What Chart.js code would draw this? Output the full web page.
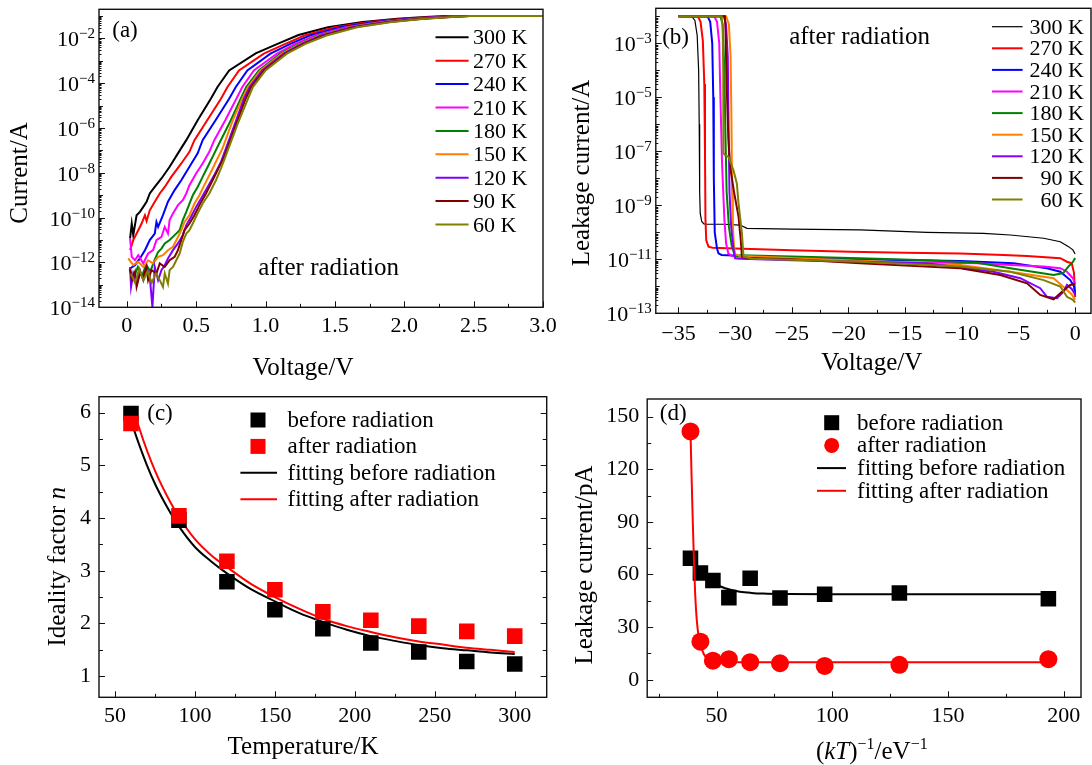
<!DOCTYPE html>
<html>
<head>
<meta charset="utf-8">
<script src="https://cdn.jsdelivr.net/npm/chart.js@4.4.1/dist/chart.umd.min.js"></script>
<style>
	html, body { margin: 0; padding: 0; background: #fff; }
	#wrap { position: relative; width: 1092px; height: 765px; overflow: hidden; background: #fff; }
	#wrap canvas { position: absolute; left: 0; top: 0; }
</style>
</head>
<body>
<div id="wrap">
	<canvas id="ca" width="1092" height="765"></canvas>
	<canvas id="cb" width="1092" height="765"></canvas>
	<canvas id="cc" width="1092" height="765"></canvas>
	<canvas id="cd" width="1092" height="765"></canvas>
</div>
<script>
// ─────────────────────────────────────────────
// shared series labels / colours (a), (b)
// ─────────────────────────────────────────────
const tempLabels = ['300 K', '270 K', '240 K', '210 K', '180 K', '150 K', '120 K', '90 K', '60 K'];
const tempColors = ['#000000', '#ff0000', '#0000ff', '#ff00ff', '#008000', '#ff8000', '#8000ff', '#800000', '#808000'];

// ─────────────────────────────────────────────
// (a) forward I–V after radiation: voltage (V) and log10(current / A)
// ─────────────────────────────────────────────
const a300V = [0.024,0.036,0.047,0.059,0.071,0.095,0.119,0.143,0.166,0.202,0.25,0.309,0.369,0.429,0.511,0.607,0.654,0.738,0.929,1.095,1.238,1.45,1.7,1.95,2.15,2.3,3.0];
const a300L = [-10.93,-10.26,-10.78,-10.33,-9.89,-9.74,-9.52,-9.29,-8.92,-8.63,-8.25,-7.73,-7.13,-6.54,-5.65,-4.68,-4.17,-3.43,-2.67,-2.22,-1.85,-1.5,-1.27,-1.12,-1.04,-1.0,-1.0];
const a270V = [0.024,0.047,0.083,0.107,0.131,0.143,0.166,0.202,0.238,0.274,0.321,0.393,0.452,0.488,0.58,0.679,0.726,0.809,0.988,1.143,1.28,1.5,1.75,2.0,2.2,2.35,3.0];
const a270L = [-11.45,-11.0,-10.56,-10.26,-9.89,-10.15,-9.67,-9.29,-8.92,-8.63,-8.18,-7.58,-7.06,-6.54,-5.65,-4.69,-4.17,-3.43,-2.68,-2.24,-1.87,-1.5,-1.27,-1.12,-1.04,-1.0,-1.0];
const a240V = [0.024,0.059,0.095,0.131,0.166,0.202,0.214,0.226,0.261,0.297,0.345,0.393,0.452,0.511,0.547,0.64,0.738,0.786,0.869,1.036,1.179,1.32,1.54,1.79,2.04,2.25,2.4,3.0];
const a240L = [-12.27,-12.12,-11.82,-11.45,-11.0,-10.71,-10.19,-10.41,-9.89,-9.29,-8.77,-8.33,-7.73,-7.13,-6.54,-5.65,-4.69,-4.17,-3.43,-2.68,-2.24,-1.87,-1.5,-1.27,-1.12,-1.04,-1.0,-1.0];
const a210V = [0.024,0.036,0.059,0.083,0.119,0.154,0.19,0.214,0.25,0.274,0.297,0.309,0.333,0.369,0.404,0.429,0.452,0.5,0.547,0.595,0.631,0.71,0.79,0.833,0.916,1.083,1.214,1.36,1.58,1.83,2.08,2.28,2.42,3.0];
const a210L = [-10.93,-11.75,-11.9,-11.67,-12.04,-11.6,-11.45,-11.0,-10.86,-10.41,-10.71,-10.11,-9.81,-9.44,-9.22,-8.92,-8.55,-8.03,-7.58,-7.06,-6.54,-5.65,-4.69,-4.17,-3.43,-2.68,-2.24,-1.87,-1.5,-1.27,-1.12,-1.04,-1.0,-1.0];
const a180V = [0.02,0.05,0.08,0.11,0.14,0.17,0.2,0.226,0.25,0.274,0.309,0.345,0.381,0.404,0.429,0.452,0.476,0.511,0.547,0.595,0.631,0.666,0.75,0.821,0.861,0.952,1.107,1.238,1.38,1.6,1.85,2.1,2.3,2.44,3.0];
const a180L = [-12.3,-12.7,-12.2,-12.6,-12.1,-12.4,-11.9,-11.53,-11.38,-11.15,-11.0,-10.78,-10.56,-10.11,-9.74,-9.37,-9.0,-8.63,-8.18,-7.58,-7.13,-6.69,-5.65,-4.69,-4.17,-3.43,-2.68,-2.24,-1.87,-1.5,-1.27,-1.12,-1.04,-1.0,-1.0];
const a150V = [0.011,0.047,0.083,0.119,0.154,0.19,0.226,0.261,0.297,0.333,0.369,0.393,0.416,0.452,0.488,0.524,0.559,0.607,0.654,0.69,0.765,0.833,0.874,0.964,1.119,1.249,1.39,1.61,1.86,2.11,2.31,2.45,3.0];
const a150L = [-11.82,-12.12,-11.97,-12.2,-11.9,-12.04,-11.75,-11.67,-11.45,-11.3,-10.86,-10.56,-10.19,-9.89,-9.37,-9.0,-8.55,-7.96,-7.36,-6.91,-5.65,-4.69,-4.17,-3.43,-2.68,-2.24,-1.87,-1.5,-1.27,-1.12,-1.04,-1.0,-1.0];
const a120V = [0.024,0.031,0.047,0.071,0.095,0.119,0.143,0.166,0.185,0.202,0.226,0.25,0.274,0.297,0.333,0.369,0.404,0.429,0.464,0.5,0.536,0.583,0.631,0.679,0.702,0.78,0.845,0.886,0.976,1.131,1.26,1.4,1.62,1.87,2.12,2.32,2.46,3.0];
const a120L = [-12.2,-13.09,-12.49,-12.94,-12.34,-12.79,-12.2,-12.64,-13.98,-12.2,-12.79,-12.34,-12.12,-11.82,-11.45,-11.15,-10.78,-10.33,-9.96,-9.52,-9.14,-8.63,-8.1,-7.51,-7.13,-5.8,-4.69,-4.17,-3.43,-2.68,-2.24,-1.87,-1.5,-1.27,-1.12,-1.04,-1.0,-1.0];
const a90V  = [0.024,0.036,0.059,0.071,0.095,0.119,0.143,0.154,0.178,0.214,0.238,0.274,0.309,0.345,0.369,0.393,0.416,0.452,0.488,0.524,0.571,0.619,0.666,0.702,0.79,0.857,0.897,0.988,1.143,1.274,1.42,1.64,1.89,2.13,2.33,2.47,3.0];
const a90L  = [-12.27,-12.79,-12.42,-13.09,-12.49,-12.64,-12.2,-12.79,-12.34,-12.49,-12.04,-12.2,-11.9,-11.75,-11.45,-11.0,-10.56,-10.26,-9.89,-9.44,-8.92,-8.33,-7.73,-7.29,-5.8,-4.69,-4.17,-3.43,-2.68,-2.24,-1.87,-1.5,-1.27,-1.12,-1.04,-1.0,-1.0];
const a60V  = [0.03,0.06,0.09,0.12,0.15,0.18,0.21,0.238,0.261,0.274,0.297,0.309,0.333,0.357,0.381,0.404,0.429,0.452,0.476,0.511,0.547,0.595,0.643,0.679,0.702,0.8,0.874,0.909,1.0,1.154,1.288,1.44,1.66,1.91,2.15,2.35,2.48,3.0];
const a60L  = [-12.5,-12.9,-12.3,-12.8,-12.4,-12.9,-12.5,-12.79,-13.09,-12.49,-12.94,-12.34,-12.2,-11.9,-11.6,-11.08,-10.71,-10.56,-10.26,-9.81,-9.37,-8.92,-8.33,-7.8,-7.43,-5.8,-4.69,-4.17,-3.43,-2.68,-2.24,-1.87,-1.5,-1.27,-1.12,-1.04,-1.0,-1.0];

// ─────────────────────────────────────────────
// (b) reverse leakage after radiation: voltage (V) and log10(current / A)
// ─────────────────────────────────────────────
const b300V = [-35,-33.85,-33.55,-33.35,-33.22,-33.17,-33.13,-33.08,-32.95,-32.75,-32.5,-31,-29.55,-28.96,-25,-18.97,-13.08,-8.08,-5.72,-2.78,-1.31,-0.58,-0.2,0];
const b300L = [-1.99,-1.99,-2.15,-2.7,-4.0,-6.0,-8.5,-9.3,-9.6,-9.69,-9.7,-9.7,-9.73,-9.85,-9.88,-9.91,-10.0,-10.04,-10.1,-10.22,-10.35,-10.53,-10.65,-10.8];
const b270V = [-35,-33.3,-33.05,-32.85,-32.72,-32.66,-32.62,-32.55,-32.35,-32.0,-30,-25,-19.85,-15,-10.14,-6.32,-4.25,-1.31,-0.72,-0.3,-0.1,0];
const b270L = [-1.99,-1.99,-2.2,-2.9,-4.5,-7.0,-9.5,-10.3,-10.53,-10.57,-10.6,-10.66,-10.72,-10.76,-10.78,-10.84,-10.88,-10.96,-11.09,-11.15,-11.5,-12.4];
const b240V = [-35,-32.45,-32.2,-32.02,-31.93,-31.88,-31.8,-31.6,-31.47,-31.2,-28,-25,-18.97,-10.14,-5.43,-2.48,-1.31,-0.43,-0.1,0];
const b240L = [-1.99,-1.99,-2.2,-3.0,-5.0,-8.0,-10.0,-10.6,-10.78,-10.84,-10.9,-10.93,-11.0,-11.06,-11.15,-11.33,-11.46,-11.77,-12.0,-12.3];
const b210V = [-35,-31.85,-31.6,-31.4,-31.3,-31.15,-30.95,-30.8,-30.6,-30.3,-28,-25,-18.97,-8.66,-5.72,-2.78,-1.31,-0.72,-0.2,0];
const b210L = [-1.99,-1.99,-2.2,-3.0,-5.0,-7.5,-9.5,-10.4,-10.78,-10.88,-10.95,-11.0,-11.09,-11.15,-11.21,-11.27,-11.33,-11.46,-11.7,-11.9];
const b180V = [-35,-31.3,-31.1,-30.95,-30.85,-30.75,-30.55,-30.3,-30.0,-29.5,-25,-18.97,-13.08,-8.66,-5.72,-1.9,-1.05,-0.6,-0.2,0];
const b180L = [-1.99,-1.99,-2.3,-4.0,-6.5,-8.5,-9.8,-10.5,-10.9,-10.85,-10.9,-10.96,-11.03,-11.13,-11.33,-11.58,-11.51,-11.27,-11.1,-10.95];
const b150V = [-35,-30.8,-30.55,-30.4,-30.32,-30.27,-30.2,-30.1,-30.0,-29.5,-25,-18.97,-10.14,-5.72,-1.9,-0.72,-0.3,0];
const b150L = [-1.99,-1.99,-2.3,-3.5,-6.0,-8.5,-9.8,-10.5,-10.81,-10.88,-10.95,-11.05,-11.21,-11.46,-11.7,-12.14,-12.3,-12.5];
const b120V = [-35,-31.0,-30.8,-30.65,-30.58,-30.5,-30.35,-30.15,-30.0,-29.5,-25,-18.97,-13.08,-7.2,-4.84,-3.08,-2.48,-1.6,-1.02,-0.72,-0.3,0];
const b120L = [-1.99,-1.99,-2.3,-3.5,-6.0,-8.5,-9.8,-10.6,-10.96,-10.98,-11.03,-11.09,-11.15,-11.46,-11.7,-12.07,-12.39,-12.44,-12.2,-11.95,-12.1,-12.3];
const b90V  = [-35,-30.9,-30.85,-30.75,-30.6,-30.44,-30.1,-29.7,-29.5,-29.4,-29.0,-25,-18.97,-10.14,-6.61,-4.25,-3.08,-1.9,-1.31,-0.43,0];
const b90L  = [-1.99,-1.99,-2.5,-4.5,-6.5,-7.57,-8.5,-9.42,-10.3,-10.9,-10.95,-11.0,-11.15,-11.33,-11.58,-11.89,-12.32,-12.48,-12.26,-11.95,-11.9];
const b60V  = [-35,-31.2,-31.1,-31.05,-31.03,-30.85,-30.59,-30.15,-29.85,-29.7,-29.4,-29.26,-28.5,-25,-18.97,-10.14,-5.72,-2.78,-1.31,-0.72,-0.2,0];
const b60L  = [-1.99,-1.99,-2.4,-4.0,-7.07,-7.15,-7.2,-7.69,-8.19,-8.93,-10.04,-10.9,-10.98,-11.02,-11.09,-11.27,-11.46,-11.77,-12.01,-12.39,-12.5,-12.6];

// ─────────────────────────────────────────────
// (c) ideality factor vs temperature
// ─────────────────────────────────────────────
const cTemp   = [60, 90, 120, 150, 180, 210, 240, 270, 300];
const cBefore = [5.98, 3.96, 2.79, 2.26, 1.9, 1.63, 1.46, 1.28, 1.23];
const cAfter  = [5.79, 4.04, 3.18, 2.64, 2.22, 2.06, 1.95, 1.85, 1.76];
const cFitT      = [61, 65, 70, 75, 80, 85, 90, 100, 110, 120, 135, 150, 165, 180, 195, 210, 225, 240, 255, 270, 285, 300];
const cFitBefore = [5.75, 5.4, 5.0, 4.65, 4.35, 4.08, 3.84, 3.45, 3.18, 2.95, 2.65, 2.42, 2.2, 2.03, 1.88, 1.76, 1.67, 1.59, 1.53, 1.49, 1.45, 1.42];
const cFitAfter  = [6.12, 5.72, 5.28, 4.9, 4.57, 4.28, 4.02, 3.6, 3.3, 3.07, 2.75, 2.5, 2.28, 2.09, 1.95, 1.84, 1.74, 1.66, 1.6, 1.54, 1.5, 1.46];

// ─────────────────────────────────────────────
// (d) leakage current (pA) vs (kT)^-1
// ─────────────────────────────────────────────
const dInvKT  = [38.7, 43.0, 48.4, 55.3, 64.5, 77.4, 96.7, 129.0, 193.4];
const dBefore = [69.2, 60.8, 56.6, 46.8, 57.9, 46.6, 48.7, 49.4, 46.2];
const dAfter  = [141.5, 21.7, 10.9, 11.7, 10.0, 9.4, 7.9, 8.5, 11.7];
const dFitBeforeX = [38.7, 41, 43, 46, 48.5, 52, 56, 60, 65, 70, 80, 100, 194];
const dFitBefore  = [69.5, 64.5, 61, 57.5, 55.5, 53, 51.3, 50.2, 49.5, 49.1, 48.8, 48.7, 48.7];
const dFitAfterX  = [38.7, 39.2, 39.7, 40.2, 40.7, 41.2, 41.8, 42.5, 43.5, 44.5, 46, 48, 52, 60, 194];
const dFitAfter   = [142, 115, 90, 68, 50, 38, 29, 23, 18, 14.5, 12, 10.6, 10.2, 10.0, 10.0];

// ─────────────────────────────────────────────
// tick values
// ─────────────────────────────────────────────
const aVoltTicks = [0, 0.5, 1.0, 1.5, 2.0, 2.5, 3.0];
const aVoltMinor = [0.25, 0.75, 1.25, 1.75, 2.25, 2.75];
const aLabelExps = [-14, -12, -10, -8, -6, -4, -2];
const bVoltTicks = [-35, -30, -25, -20, -15, -10, -5, 0];
const bVoltMinor = [-32.5, -27.5, -22.5, -17.5, -12.5, -7.5, -2.5];
const bLabelExps = [-13, -11, -9, -7, -5, -3];
const cTempTicks = [50, 100, 150, 200, 250, 300];
const cTempMinor = [75, 125, 175, 225, 275];
const cNTicks    = [1, 2, 3, 4, 5, 6];
const cNMinor    = [1.5, 2.5, 3.5, 4.5, 5.5];
const dXTicks    = [50, 100, 150, 200];
const dXMinor    = [25, 75, 125, 175];
const dYTicks    = [0, 30, 60, 90, 120, 150];
const dYMinor    = [15, 45, 75, 105, 135];

// ─────────────────────────────────────────────
// helpers
// ─────────────────────────────────────────────
const SERIF = '"Liberation Serif", "Times New Roman", serif';
Chart.defaults.font.family = SERIF;
Chart.defaults.font.size = 22;
Chart.defaults.color = '#000';

const W = 1092, H = 765, AX = 60;
const layoutFor = p => ({ padding: { left: p.l - AX, top: p.t, right: W - p.r, bottom: H - p.b - AX } });
const fitY = s => { s.width = AX; };
const fitX = s => { s.height = AX; };
const setTicks = vals => s => { s.ticks = vals.map(v => ({ value: v })); };
const logPts = (vs, ls) => vs.map((v, i) => ({ x: v, y: Math.pow(10, ls[i]) }));
const xyPts  = (xs, ys) => xs.map((x, i) => ({ x, y: ys[i] }));
const minus  = v => (v < 0 ? '\u2212' + Math.abs(v) : String(v));

function decadeTicks(lo, hi) {
	const out = [];
	for (let e = lo; e <= hi; e++) out.push(Math.pow(10, e));
	return out;
}
function subDecadeTicks(lo, hi, max) {
	const out = [];
	for (let e = lo; e < hi; e++) for (let m = 2; m <= 9; m++) { const v = m * Math.pow(10, e); if (v < max) out.push(v); }
	return out;
}

const fontOf = p => `${p.it ? 'italic ' : ''}${p.s || 22}px ${SERIF}`;
function drawRich(ctx, parts, x, y, align = 'left', rot = 0) {
	ctx.save();
	ctx.translate(x, y);
	if (rot) ctx.rotate(rot);
	let w = 0;
	parts.forEach(p => { ctx.font = fontOf(p); w += ctx.measureText(p.t).width; });
	let cx = align === 'center' ? -w / 2 : align === 'right' ? -w : 0;
	ctx.textAlign = 'left';
	ctx.textBaseline = 'alphabetic';
	ctx.fillStyle = '#000';
	parts.forEach(p => { ctx.font = fontOf(p); ctx.fillText(p.t, cx, -(p.up || 0)); cx += ctx.measureText(p.t).width; });
	ctx.restore();
}

// ─────────────────────────────────────────────
// frame, inward ticks, log labels, legend and notes
// ─────────────────────────────────────────────
const deco = {
	id: 'deco',
	afterDraw(chart, args, o) {
		const { ctx, chartArea: a, scales: { x, y } } = chart;
		ctx.save();
		ctx.strokeStyle = '#111';
		ctx.lineWidth = 1.4;
		ctx.strokeRect(a.left, a.top, a.right - a.left, a.bottom - a.top);

		ctx.lineWidth = 1;
		ctx.beginPath();
		const xt = (vals, len) => vals.forEach(v => {
			const p = Math.round(x.getPixelForValue(v)) + 0.5;
			ctx.moveTo(p, a.bottom); ctx.lineTo(p, a.bottom - len);
		});
		const yt = (vals, len) => vals.forEach(v => {
			const p = Math.round(y.getPixelForValue(v)) + 0.5;
			ctx.moveTo(a.left, p); ctx.lineTo(a.left + len, p);
			if (o.rightTicks) { ctx.moveTo(a.right, p); ctx.lineTo(a.right - len, p); }
		});
		xt(o.xMajor || [], 6); xt(o.xMinor || [], 3.5);
		yt(o.yMajor || [], 6); yt(o.yMinor || [], 4); yt(o.yTiny || [], 2.5);
		ctx.stroke();

		// log-axis labels 10^n
		(o.logLabels || []).forEach(e => {
			const p = y.getPixelForValue(Math.pow(10, e));
			drawRich(ctx, [{ t: '10', s: 22 }, { t: minus(e), s: 15, up: 8 }], a.left - 4, p + 8, 'right');
		});

		// legend
		const lg = o.legend;
		if (lg) {
			lg.items.forEach((k, i) => {
				const ds = chart.data.datasets[k];
				const ry = lg.y0 + i * lg.dy;
				ctx.fillStyle = ds.backgroundColor || ds.borderColor;
				if (ds.pointRadius > 0) {
					if (ds.pointStyle === 'circle') {
						ctx.beginPath(); ctx.arc(lg.mx, ry, lg.ms / 2, 0, Math.PI * 2); ctx.fill();
					} else {
						ctx.fillRect(lg.mx - lg.ms / 2, ry - lg.ms / 2, lg.ms, lg.ms);
					}
				} else {
					ctx.strokeStyle = ds.borderColor;
					ctx.lineWidth = ds.borderWidth;
					ctx.beginPath(); ctx.moveTo(lg.x0, ry); ctx.lineTo(lg.x1, ry); ctx.stroke();
				}
				drawRich(ctx, [{ t: ds.label, s: lg.size }], lg.tx, ry + 7, lg.align);
			});
		}

		(o.texts || []).forEach(tx => drawRich(ctx, tx.parts, tx.x, tx.y, tx.align || 'left', tx.rot || 0));
		ctx.restore();
	}
};

const common = { responsive: false, animation: false, events: [], devicePixelRatio: 1 };
const hideGrid = { display: false, drawTicks: false };
const ROT = -Math.PI / 2;

// ─────────────────────────────────────────────
// (a)
// ─────────────────────────────────────────────
const panelA = { l: 99, t: 9.3, r: 543, b: 307.3 };
const aCurvesV = [a300V, a270V, a240V, a210V, a180V, a150V, a120V, a90V, a60V];
const aCurvesL = [a300L, a270L, a240L, a210L, a180L, a150L, a120L, a90L, a60L];

new Chart(document.getElementById('ca'), {
	type: 'line',
	data: {
		datasets: aCurvesV.map((v, i) => ({
			label: tempLabels[i], data: logPts(v, aCurvesL[i]),
			borderColor: tempColors[i], borderWidth: 2, pointRadius: 0, order: 9 - i,
		}))
	},
	options: {
		...common,
		layout: layoutFor(panelA),
		plugins: {
			legend: { display: false }, tooltip: { enabled: false },
			deco: {
				xMajor: aVoltTicks, xMinor: aVoltMinor,
				yMajor: aLabelExps.map(e => Math.pow(10, e)),
				yMinor: decadeTicks(-13, -1),
				yTiny: subDecadeTicks(-14, -1, Math.pow(10, -0.7)),
				logLabels: aLabelExps,
				legend: { items: [0, 1, 2, 3, 4, 5, 6, 7, 8], y0: 37.3, dy: 23.4, x0: 435.5, x1: 468.6, tx: 473, align: 'left', size: 22 },
				texts: [
					{ parts: [{ t: '(a)', s: 23 }], x: 125, y: 37, align: 'center' },
					{ parts: [{ t: 'after radiation', s: 25 }], x: 328.6, y: 275, align: 'center' },
					{ parts: [{ t: 'Current/A', s: 25 }], x: 27, y: 173, align: 'center', rot: ROT },
					{ parts: [{ t: 'Voltage/V', s: 25 }], x: 303, y: 375, align: 'center' },
				],
			},
		},
		scales: {
			x: {
				type: 'linear', min: -0.2, max: 3.0, afterFit: fitX, afterBuildTicks: setTicks(aVoltTicks),
				grid: hideGrid, border: { display: false },
				ticks: { padding: 6, font: { size: 22 }, callback: v => (v === 0 ? '0' : v.toFixed(1)) },
			},
			y: {
				type: 'logarithmic', min: 1e-14, max: Math.pow(10, -0.7), afterFit: fitY,
				afterBuildTicks: setTicks(decadeTicks(-14, -1)),
				grid: hideGrid, border: { display: false }, ticks: { display: false },
			},
		},
	},
	plugins: [deco],
});

// ─────────────────────────────────────────────
// (b)
// ─────────────────────────────────────────────
const panelB = { l: 655.8, t: 8.3, r: 1091, b: 313.3 };
const bCurvesV = [b300V, b270V, b240V, b210V, b180V, b150V, b120V, b90V, b60V];
const bCurvesL = [b300L, b270L, b240L, b210L, b180L, b150L, b120L, b90L, b60L];

new Chart(document.getElementById('cb'), {
	type: 'line',
	data: {
		datasets: bCurvesV.map((v, i) => ({
			label: tempLabels[i], data: logPts(v, bCurvesL[i]),
			borderColor: tempColors[i], borderWidth: i === 0 ? 1.2 : 2, pointRadius: 0, order: 9 - i,
		}))
	},
	options: {
		...common,
		layout: layoutFor(panelB),
		plugins: {
			legend: { display: false }, tooltip: { enabled: false },
			deco: {
				xMajor: bVoltTicks, xMinor: bVoltMinor,
				yMajor: bLabelExps.map(e => Math.pow(10, e)),
				yMinor: [-12, -10, -8, -6, -4, -2].map(e => Math.pow(10, e)),
				yTiny: subDecadeTicks(-13, -1, Math.pow(10, -1.7)),
				logLabels: bLabelExps,
				legend: { items: [0, 1, 2, 3, 4, 5, 6, 7, 8], y0: 26.7, dy: 21.6, x0: 992, x1: 1022.6, tx: 1084, align: 'right', size: 22 },
				texts: [
					{ parts: [{ t: '(b)', s: 23 }], x: 675.6, y: 44, align: 'center' },
					{ parts: [{ t: 'after radiation', s: 25 }], x: 859.6, y: 44, align: 'center' },
					{ parts: [{ t: 'Leakage current/A', s: 25 }], x: 589, y: 173, align: 'center', rot: ROT },
					{ parts: [{ t: 'Voltage/V', s: 25 }], x: 871.8, y: 370, align: 'center' },
				],
			},
		},
		scales: {
			x: {
				type: 'linear', min: -37, max: 1.4, afterFit: fitX, afterBuildTicks: setTicks(bVoltTicks),
				grid: hideGrid, border: { display: false },
				ticks: { padding: 8, font: { size: 22 }, callback: v => minus(v) },
			},
			y: {
				type: 'logarithmic', min: 1e-13, max: Math.pow(10, -1.7), afterFit: fitY,
				afterBuildTicks: setTicks(decadeTicks(-13, -2)),
				grid: hideGrid, border: { display: false }, ticks: { display: false },
			},
		},
	},
	plugins: [deco],
});

// ─────────────────────────────────────────────
// (c)
// ─────────────────────────────────────────────
const panelC = { l: 99, t: 396.7, r: 546.7, b: 697.3 };

new Chart(document.getElementById('cc'), {
	type: 'line',
	data: {
		datasets: [
			{ label: 'before radiation', data: xyPts(cTemp, cBefore), showLine: false, pointStyle: 'rect', pointRadius: 11, pointBorderWidth: 0, backgroundColor: '#000000', borderColor: '#000000', order: 2 },
			{ label: 'after radiation', data: xyPts(cTemp, cAfter), showLine: false, pointStyle: 'rect', pointRadius: 11, pointBorderWidth: 0, backgroundColor: '#ff0000', borderColor: '#ff0000', order: 1 },
			{ label: 'fitting before radiation', data: xyPts(cFitT, cFitBefore), borderColor: '#000000', borderWidth: 2, pointRadius: 0, cubicInterpolationMode: 'monotone', order: 4 },
			{ label: 'fitting after radiation', data: xyPts(cFitT, cFitAfter), borderColor: '#ff0000', borderWidth: 2, pointRadius: 0, cubicInterpolationMode: 'monotone', order: 3 },
		]
	},
	options: {
		...common,
		layout: layoutFor(panelC),
		plugins: {
			legend: { display: false }, tooltip: { enabled: false },
			deco: {
				xMajor: cTempTicks, xMinor: cTempMinor, yMajor: cNTicks, yMinor: cNMinor, rightTicks: true,
				legend: { items: [0, 1, 2, 3], y0: 420, dy: 26.4, mx: 258, ms: 15, x0: 240.4, x1: 277, tx: 287.5, align: 'left', size: 23 },
				texts: [
					{ parts: [{ t: '(c)', s: 23 }], x: 160, y: 420, align: 'center' },
					{ parts: [{ t: 'Ideality factor ', s: 25 }, { t: 'n', s: 25, it: true }], x: 65, y: 566.7, align: 'center', rot: ROT },
					{ parts: [{ t: 'Temperature/K', s: 25 }], x: 303, y: 754, align: 'center' },
				],
			},
		},
		scales: {
			x: {
				type: 'linear', min: 40, max: 320, afterFit: fitX, afterBuildTicks: setTicks(cTempTicks),
				grid: hideGrid, border: { display: false }, ticks: { padding: 6, font: { size: 22 } },
			},
			y: {
				type: 'linear', min: 0.6, max: 6.3, afterFit: fitY, afterBuildTicks: setTicks(cNTicks),
				grid: hideGrid, border: { display: false }, ticks: { padding: 8, font: { size: 22 } },
			},
		},
	},
	plugins: [deco],
});

// ─────────────────────────────────────────────
// (d)
// ─────────────────────────────────────────────
const panelD = { l: 647.2, t: 399, r: 1091, b: 697.3 };

new Chart(document.getElementById('cd'), {
	type: 'line',
	data: {
		datasets: [
			{ label: 'before radiation', data: xyPts(dInvKT, dBefore), showLine: false, pointStyle: 'rect', pointRadius: 11, pointBorderWidth: 0, backgroundColor: '#000000', borderColor: '#000000', order: 3 },
			{ label: 'after radiation', data: xyPts(dInvKT, dAfter), showLine: false, pointStyle: 'circle', pointRadius: 9, pointBorderWidth: 0, backgroundColor: '#ff0000', borderColor: '#ff0000', order: 1 },
			{ label: 'fitting before radiation', data: xyPts(dFitBeforeX, dFitBefore), borderColor: '#000000', borderWidth: 2, pointRadius: 0, cubicInterpolationMode: 'monotone', order: 4 },
			{ label: 'fitting after radiation', data: xyPts(dFitAfterX, dFitAfter), borderColor: '#ff0000', borderWidth: 2, pointRadius: 0, cubicInterpolationMode: 'monotone', order: 2 },
		]
	},
	options: {
		...common,
		layout: layoutFor(panelD),
		plugins: {
			legend: { display: false }, tooltip: { enabled: false },
			deco: {
				xMajor: dXTicks, xMinor: dXMinor, yMajor: dYTicks, yMinor: dYMinor,
				legend: { items: [0, 1, 2, 3], y0: 422.7, dy: 22.7, mx: 831.7, ms: 15, x0: 817, x1: 846, tx: 857, align: 'left', size: 23 },
				texts: [
					{ parts: [{ t: '(d)', s: 23 }], x: 673.2, y: 420, align: 'center' },
					{ parts: [{ t: 'Leakage current/pA', s: 25 }], x: 592, y: 565, align: 'center', rot: ROT },
					{ parts: [{ t: '(', s: 25 }, { t: 'kT', s: 25, it: true }, { t: ')', s: 25 }, { t: '\u22121', s: 16, up: 10 }, { t: '/eV', s: 25 }, { t: '\u22121', s: 16, up: 10 }], x: 871.8, y: 759, align: 'center' },
				],
			},
		},
		scales: {
			x: {
				type: 'linear', min: 20, max: 207.5, afterFit: fitX, afterBuildTicks: setTicks(dXTicks),
				grid: hideGrid, border: { display: false }, ticks: { padding: 6, font: { size: 22 } },
			},
			y: {
				type: 'linear', min: -10, max: 160, afterFit: fitY, afterBuildTicks: setTicks(dYTicks),
				grid: hideGrid, border: { display: false }, ticks: { padding: 8, font: { size: 22 } },
			},
		},
	},
	plugins: [deco],
});
</script>
</body>
</html>
